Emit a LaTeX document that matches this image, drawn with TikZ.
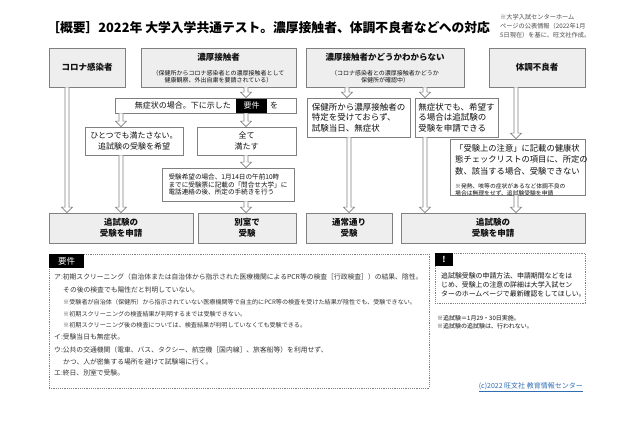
\documentclass[tikz,border=0pt]{standalone}
\usepackage{fontspec}
\setmainfont{Noto Sans CJK JP}
\usetikzlibrary{calc}
\definecolor{bordergray}{HTML}{808080}
\definecolor{boxgray}{HTML}{EEEEEE}
\definecolor{txtgray}{HTML}{111111}
\definecolor{reqgray}{HTML}{333333}
\definecolor{linkblue}{HTML}{2F6EB5}
\newcommand\fsz[2]{\fontsize{#1}{#2}\selectfont}
\newcommand\hollowarrow[2]{%
  \path[arrowshape] let \p1=(#1), \p2=(#2) in
    (\x1-2pt,\y1) -- (\x1-2pt,\y2+5.5pt) -- (\x1-5.5pt,\y2+5.5pt) -- (\x1,\y2)
    -- (\x1+5.5pt,\y2+5.5pt) -- (\x1+2pt,\y2+5.5pt) -- (\x1+2pt,\y1);}
\tikzset{
  box/.style={draw=bordergray, line width=0.8pt, inner sep=0pt, text=txtgray},
  graybox/.style={box, fill=boxgray},
  whitebox/.style={box, fill=white},
  arrowshape/.style={draw=bordergray, fill=white, line width=0.6pt, line join=miter},
  dotbox/.style={draw=bordergray, line width=0.7pt, dash pattern=on 1.2pt off 1pt},
  blacklabel/.style={fill=black, text=white, inner sep=0pt},
  txt/.style={inner sep=0pt, text=txtgray},
  reqtxt/.style={inner sep=0pt, text=reqgray, anchor=west},
  boxtitle/.style={font=\bfseries\fsz{8.5}{11}, align=center},
}
\begin{document}
\begin{tikzpicture}[x=1pt,y=-1pt]
\fill[white] (0,0) rectangle (640,426);
\useasboundingbox (0,0) rectangle (640,426);

% title and note
\node[txt, anchor=west, text=black, font=\bfseries\fsz{12.8}{14}] (T) at (47,28) {［概要］2022年 大学入学共通テスト。濃厚接触者、体調不良者などへの対応};
\node[txt, anchor=north west, font=\fsz{6.2}{9}, align=left, text=black!70] (N) at (500,14.5) {※大学入試センターホーム\\ページの公表情報（2022年1月\\5日現在）を基に、旺文社作成。};

% top row
\node[graybox, boxtitle, minimum width=76pt, minimum height=39pt] (A) at (87,67.5) {コロナ感染者};
\node[graybox, minimum width=155pt, minimum height=39pt] (B) at (218.5,67.5) {};
\node[txt, font=\bfseries\fsz{8.5}{10}] (Bt) at (218.5,57) {濃厚接触者};
\node[txt, font=\fsz{6}{7.2}, align=center] (Bs) at (218.5,76.5) {（保健所からコロナ感染者との濃厚接触者として\\健康観察、外出自粛を要請されている）};
\node[graybox, minimum width=158pt, minimum height=39pt] (C) at (385,67.5) {};
\node[txt, font=\bfseries\fsz{8.5}{10}] (Ct) at (385,57) {濃厚接触者かどうかわからない};
\node[txt, font=\fsz{6}{7.2}, align=center] (Cs) at (385,76.5) {（コロナ感染者との濃厚接触者かどうか\\保健所が確認中）};
\node[graybox, boxtitle, minimum width=96pt, minimum height=39pt] (D) at (537,67.5) {体調不良者};

% middle
\node[whitebox, minimum width=181pt, minimum height=15pt] (E) at (205.5,105.5) {};
\node[txt, anchor=east, font=\fsz{8}{10}] (Et) at (231,105.5) {無症状の場合。下に示した};
\node[blacklabel, minimum width=31pt, minimum height=14pt, font=\fsz{8}{10}] (Er) at (251.5,105.5) {要件};
\node[txt, anchor=west, font=\fsz{8}{10}] (Eo) at (270,105.5) {を};

\node[whitebox, align=center, font=\fsz{8}{11}, minimum width=98pt, minimum height=28pt] (F) at (134,141) {ひとつでも満たさない。\\追試験の受験を希望};
\node[whitebox, align=center, font=\fsz{8}{11}, minimum width=99pt, minimum height=28pt] (G) at (246.5,141) {全て\\満たす};
\node[whitebox, align=left, font=\fsz{6.6}{7.8}, minimum width=132pt, minimum height=33pt] (H) at (228,184.5) {受験希望の場合、1月14日の午前10時\\までに受験票に記載の「問合せ大学」に\\電話連絡の後、所定の手続きを行う};

\node[whitebox, align=left, font=\fsz{8.5}{10.5}, minimum width=103pt, minimum height=39pt] (K) at (358.5,117.5) {保健所から濃厚接触者の\\特定を受けておらず、\\試験当日、無症状};
\node[whitebox, align=left, font=\fsz{8.5}{10.5}, minimum width=83pt, minimum height=39pt] (L) at (456.5,117.5) {無症状でも、希望す\\る場合は追試験の\\受験を申請できる};

\node[whitebox, minimum width=135pt, minimum height=56pt] (M) at (517.5,167) {};
\node[txt, anchor=west, align=left, font=\fsz{8.3}{11.5}] (Mt) at (455,159.5) {「受験上の注意」に記載の健康状\\態チェックリストの項目に、所定の\\数、該当する場合、受験できない};
\node[txt, anchor=west, align=left, font=\fsz{5.8}{7.2}] (Ms) at (455,189.5) {※発熱、咳等の症状があるなど体調不良の\\場合は無理をせず、追試験受験を申請};

% bottom row
\node[graybox, boxtitle, minimum width=144pt, minimum height=30pt] (I) at (121,228) {追試験の\\受験を申請};
\node[graybox, boxtitle, minimum width=98pt, minimum height=30pt] (J) at (247,228) {別室で\\受験};
\node[graybox, boxtitle, minimum width=86pt, minimum height=30pt] (K2) at (349,228) {通常通り\\受験};
\node[graybox, boxtitle, minimum width=184pt, minimum height=30pt] (L2) at (493,228) {追試験の\\受験を申請};

% arrow x positions
\coordinate (xa) at (67,0);
\coordinate (xf) at (121,0);
\coordinate (xb) at (246,0);
\coordinate (xc1) at (347,0);
\coordinate (xc2) at (425,0);
\coordinate (xk) at (349,0);
\coordinate (xd) at (516,0);

\hollowarrow{A.south -| xa}{I.north -| xa}
\hollowarrow{B.south -| xb}{E.north -| xb}
\hollowarrow{E.south -| xf}{F.north -| xf}
\hollowarrow{E.south -| xb}{G.north -| xb}
\hollowarrow{G.south -| xb}{H.north -| xb}
\hollowarrow{H.south -| xb}{J.north -| xb}
\hollowarrow{F.south -| xf}{I.north -| xf}
\hollowarrow{C.south -| xc1}{K.north -| xc1}
\hollowarrow{C.south -| xc2}{L.north -| xc2}
\hollowarrow{K.south -| xk}{K2.north -| xk}
\hollowarrow{L.south -| xc2}{L2.north -| xc2}
\hollowarrow{D.south -| xd}{M.north -| xd}
\hollowarrow{M.south -| xd}{L2.north -| xd}

% requirements box
\node[dotbox, minimum width=380pt, minimum height=134pt] (R) at (239,321) {};
\node[blacklabel, minimum width=35pt, minimum height=14pt, font=\fsz{8.5}{10}] (Rl) at (66.5,261) {要件};
\node[reqtxt, font=\fsz{6.8}{8}] (r1) at (54,277) {ア:初期スクリーニング（自治体または自治体から指示された医療機関によるPCR等の検査［行政検査］）の結果、陰性。};
\node[reqtxt, font=\fsz{6.8}{8}] (r2) at (63,290) {その後の検査でも陽性だと判明していない。};
\node[reqtxt, font=\fsz{6.1}{8}] (r3) at (63,302) {※受験者が自治体（保健所）から指示されていない医療機関等で自主的にPCR等の検査を受けた結果が陰性でも、受験できない。};
\node[reqtxt, font=\fsz{6.1}{8}] (r4) at (63,314) {※初期スクリーニングの検査結果が判明するまでは受験できない。};
\node[reqtxt, font=\fsz{6.1}{8}] (r5) at (63,325) {※初期スクリーニング後の検査については、検査結果が判明していなくても受験できる。};
\node[reqtxt, font=\fsz{6.8}{8}] (r6) at (54,337) {イ:受験当日も無症状。};
\node[reqtxt, font=\fsz{6.8}{8}] (r7) at (54,350) {ウ:公共の交通機関（電車、バス、タクシー、航空機［国内線］、旅客船等）を利用せず、};
\node[reqtxt, font=\fsz{6.8}{8}] (r8) at (63,362) {かつ、人が密集する場所を避けて試験場に行く。};
\node[reqtxt, font=\fsz{6.8}{8}] (r9) at (54,373) {エ:終日、別室で受験。};

% notice box
\node[dotbox, minimum width=150pt, minimum height=50pt] (X) at (510,278) {};
\node[blacklabel, minimum width=18pt, minimum height=13pt, font=\bfseries\fsz{8}{10}] (Xl) at (444,259.5) {!};
\node[txt, anchor=west, align=left, font=\fsz{6.9}{9}] (Xt) at (441,285) {追試験受験の申請方法、申請期間などをは\\じめ、受験上の注意の詳細は大学入試セン\\ターのホームページで最新確認をしてほしい。};
\node[txt, anchor=north west, align=left, font=\fsz{6}{8.3}] (fn) at (437,315) {※追試験＝1月29・30日実施。\\※追試験の追試験は、行われない。};
\node[txt, anchor=east, text=linkblue, font=\fsz{7}{8}] (cp) at (583,387) {\underline{(c)2022 旺文社 教育情報センター}};
\end{tikzpicture}
\end{document}
